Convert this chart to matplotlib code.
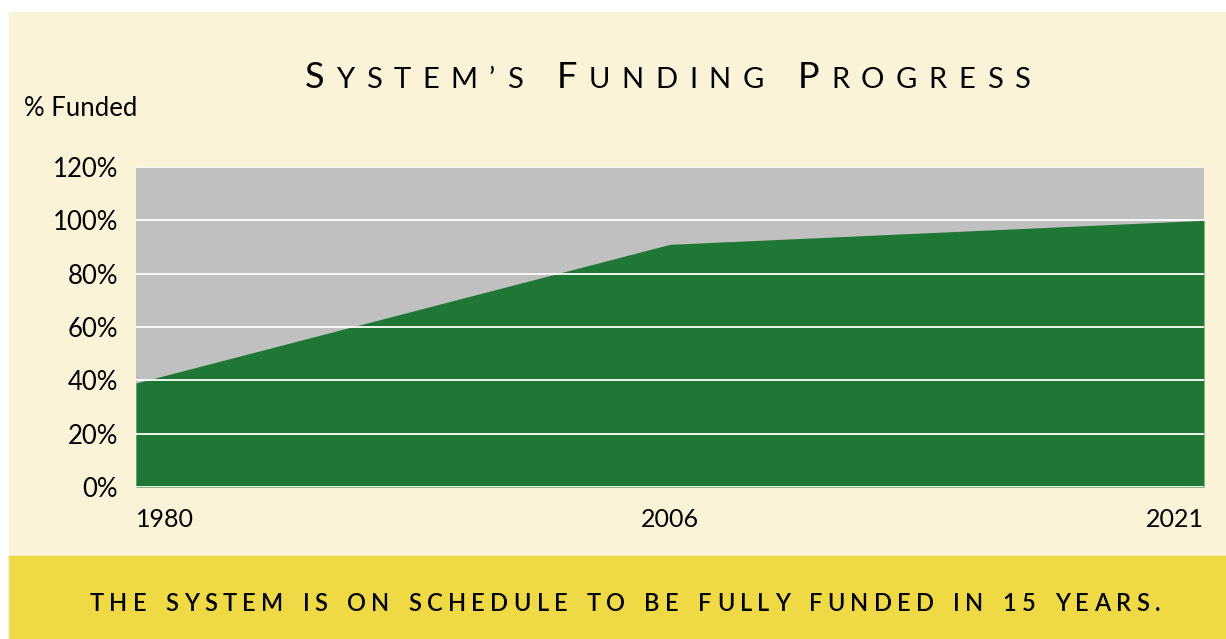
import matplotlib
matplotlib.use("Agg")
import matplotlib.pyplot as plt
from matplotlib.patches import Rectangle

# data
years = ["1980", "2006", "2021"]
funded = [39, 91, 100]
y_ticks = [0, 20, 40, 60, 80, 100, 120]
y_labels = ["0%", "20%", "40%", "60%", "80%", "100%", "120%"]

title_words = ["System's", "Funding", "Progress"]
footer = "THE SYSTEM IS ON SCHEDULE TO BE FULLY FUNDED IN 15 YEARS."

cream = "#FAF3D7"
yellow = "#EFD944"
gray = "#C0C0C0"
green = "#1E7734"
FONT = "Lato"

W, H = 1226, 639
fig = plt.figure(figsize=(W / 100, H / 100), dpi=100, facecolor="white")

# background panels (pixel coords -> figure fraction)
fig.patches.append(Rectangle((9 / W, 1 - 556 / H), (W - 9) / W, 544 / H,
                             transform=fig.transFigure, color=cream, zorder=-2))
fig.patches.append(Rectangle((9 / W, 0), (W - 9) / W, 1 - 556 / H,
                             transform=fig.transFigure, color=yellow, zorder=-2))

ax = fig.add_axes([136 / W, 1 - 487 / H, (1204 - 136) / W, (487 - 167) / H])
ax.set_facecolor(gray)
x = range(len(years))
ax.fill_between(x, funded, 0, color=green, lw=0, zorder=1)
ax.set_xlim(0, len(years) - 1)
ax.set_ylim(0, 120)
ax.set_yticks(y_ticks)
ax.set_yticklabels(y_labels, fontsize=18.5, family=FONT)
ax.set_xticks(list(x))
ax.set_xticklabels(years, fontsize=18, family=FONT)
xl = ax.get_xticklabels()
xl[0].set_ha("left")
xl[-1].set_ha("right")
ax.tick_params(axis="both", length=0)
ax.tick_params(axis="x", pad=15)
ax.tick_params(axis="y", pad=13)
ax.yaxis.grid(True, color="white", lw=1.3)
ax.set_axisbelow(False)
for s in ax.spines.values():
    s.set_visible(False)

fig.text(24 / W, 1 - 116 / H, "% Funded", fontsize=18.5, family=FONT, va="baseline")


def spaced(chars, x0, x1, y, weight="normal"):
    # lay characters out one by one so they fill x0..x1 (pixels)
    r = fig.canvas.get_renderer()
    items = []
    for c, size in chars:
        t = fig.text(0, 1 - y / H, c, fontsize=size, family=FONT,
                     fontweight=weight, va="baseline", ha="left")
        w = t.get_window_extent(r).width if c != " " else size * 0.5
        items.append((t, w))
    total = sum(w for _, w in items)
    gap = (x1 - x0 - total) / (len(items) - 1)
    xp = x0
    for t, w in items:
        t.set_x(xp / W)
        xp += w + gap


chars = []
for i, word in enumerate(title_words):
    if i > 0:
        chars.append((" ", 22))
    chars.append((word[0].upper(), 26))
    for c in word[1:]:
        chars.append((c.upper().replace("'", "’"), 21))
spaced(chars, 305, 1030, 88)

spaced([(c, 17) for c in footer], 90, 1160, 611, weight="semibold")

fig.savefig("out.png", dpi=100, facecolor="white")
